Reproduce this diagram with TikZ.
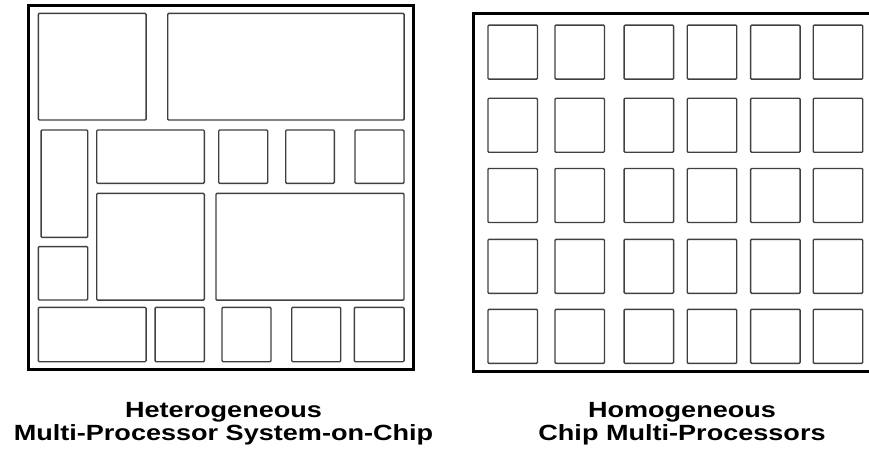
\documentclass[tikz,border=0pt]{standalone}
\usepackage{fontspec}
\newfontfamily\capfont[FakeStretch=1.23]{Liberation Sans}
\usepackage{tikz}
\tikzset{
  frame/.style={draw,line width=3pt},
  blk/.style={draw=black!75,line width=1.4pt,rounded corners=1pt,inner sep=0pt},
  lbl/.style={font=\capfont\bfseries\fontsize{22}{23}\selectfont,anchor=base,inner sep=0pt}
}

\begin{document}
\begin{tikzpicture}[x=1pt,y=-1pt]
\useasboundingbox (0,0) rectangle (869,457);
% heterogeneous chip
\node[frame,minimum width=384.5pt,minimum height=363.5pt] (het) at (220.75,187.75) {};
\node[blk,minimum width=107.7pt,minimum height=106.7pt] (ha) at (92.2,66.7) {};
\node[blk,minimum width=236.3pt,minimum height=106.7pt] (hb) at (285.9,66.7) {};
\node[blk,minimum width=46.7pt,minimum height=107.3pt] (hc) at (64.4,183.7) {};
\node[blk,minimum width=107.6pt,minimum height=53.3pt] (hd) at (150.5,156.7) {};
\node[blk,minimum width=49pt,minimum height=53.3pt] (he) at (243.2,156.7) {};
\node[blk,minimum width=48.6pt,minimum height=53.3pt] (hf) at (310,156.7) {};
\node[blk,minimum width=49pt,minimum height=53.3pt] (hg) at (379.5,156.7) {};
\node[blk,minimum width=49.4pt,minimum height=53.3pt] (hh) at (63,273.3) {};
\node[blk,minimum width=107.6pt,minimum height=106.7pt] (hi) at (150.5,246.7) {};
\node[blk,minimum width=188pt,minimum height=106.7pt] (hj) at (310,246.7) {};
\node[blk,minimum width=107.7pt,minimum height=54.4pt] (hk) at (92.2,334.5) {};
\node[blk,minimum width=49.3pt,minimum height=54.4pt] (hl) at (179.7,334.5) {};
\node[blk,minimum width=49pt,minimum height=54.4pt] (hm) at (246.5,334.5) {};
\node[blk,minimum width=49pt,minimum height=54.4pt] (hn) at (316.2,334.5) {};
\node[blk,minimum width=49.7pt,minimum height=54.4pt] (ho) at (379.2,334.5) {};
% homogeneous chip
\draw[frame] (869,13.5) -| (473.5,371) -- (869,371);
\foreach \x [count=\i] in {512.7,579.7,648.9,712,775.4,838}
  \foreach \y [count=\j] in {52.2,125.3,195.5,266.3,336.3}
    \node[blk,minimum width=49.5pt,minimum height=54pt] (c\j\i) at (\x,\y) {};
% captions
\node[lbl] (capl1) at (223.5,417) {Heterogeneous};
\node[lbl] (capl2) at (223.5,440) {Multi-Processor System-on-Chip};
\node[lbl] (capr1) at (682,417) {Homogeneous};
\node[lbl] (capr2) at (682,440) {Chip Multi-Processors};
\end{tikzpicture}
\end{document}
